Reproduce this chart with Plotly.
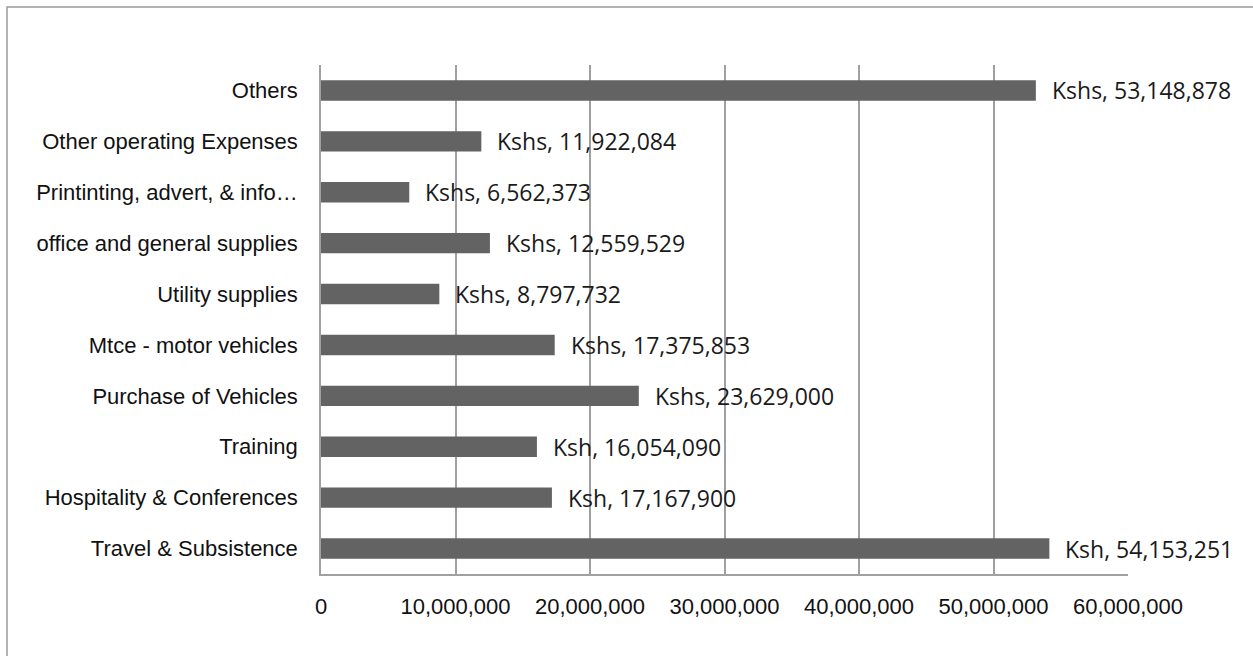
import plotly.graph_objects as go

categories = [
    "Travel & Subsistence",
    "Hospitality & Conferences",
    "Training",
    "Purchase of Vehicles",
    "Mtce - motor vehicles",
    "Utility supplies",
    "office and general supplies",
    "Printinting, advert, & info…",
    "Other operating Expenses",
    "Others",
]
values = [54153251, 17167900, 16054090, 23629000, 17375853,
          8797732, 12559529, 6562373, 11922084, 53148878]
prefixes = ["Ksh", "Ksh", "Ksh", "Kshs", "Kshs",
            "Kshs", "Kshs", "Kshs", "Kshs", "Kshs"]
x_ticks = [0, 10000000, 20000000, 30000000, 40000000, 50000000, 60000000]

W, H = 1253, 656
ML, MR, MT, MB = 321, 125, 65, 82
GRID = "#a0a0a0"
BAR = "#636363"

fig = go.Figure()
fig.add_trace(go.Bar(
    x=values, y=categories, orientation="h",
    marker=dict(color=BAR, line=dict(width=0)),
    width=0.4, hoverinfo="skip",
))

for c, v, p in zip(categories, values, prefixes):
    fig.add_annotation(
        x=v, y=c, xref="x", yref="y",
        text=f"{p}, {v:,}", showarrow=False,
        xanchor="left", yanchor="middle", xshift=14,
        font=dict(family="Open Sans", size=23, color="#1a1a1a"),
    )

pw = W - ML - MR
ph = H - MT - MB
fig.add_shape(
    type="rect", xref="paper", yref="paper",
    x0=(7 - ML) / pw, x1=(W + 10 - ML) / pw,
    y0=(H - MB - (H + 10)) / ph, y1=(H - MB - 7) / ph,
    line=dict(color="#9a9a9a", width=1.5), fillcolor="rgba(0,0,0,0)",
    layer="below",
)

fig.update_layout(
    width=W, height=H,
    margin=dict(l=ML, r=MR, t=MT, b=MB, pad=0, autoexpand=False),
    paper_bgcolor="white", plot_bgcolor="white",
    showlegend=False,
    font=dict(family="Liberation Sans, Arial", size=22, color="#111111"),
    xaxis=dict(
        range=[0, 60000000], tickvals=x_ticks,
        ticktext=[f"{t:,}" for t in x_ticks],
        showgrid=True, gridcolor=GRID, gridwidth=1.5,
        showline=True, linecolor=GRID, linewidth=1.5,
        zeroline=False, ticks="", ticklabelstandoff=12,
        fixedrange=True, automargin=False,
    ),
    yaxis=dict(
        categoryorder="array", categoryarray=categories,
        showgrid=False, showline=True, linecolor=GRID, linewidth=1.5,
        zeroline=False, ticks="", ticklabelstandoff=17,
        fixedrange=True, automargin=False,
    ),
)

fig.write_html("out.html")
